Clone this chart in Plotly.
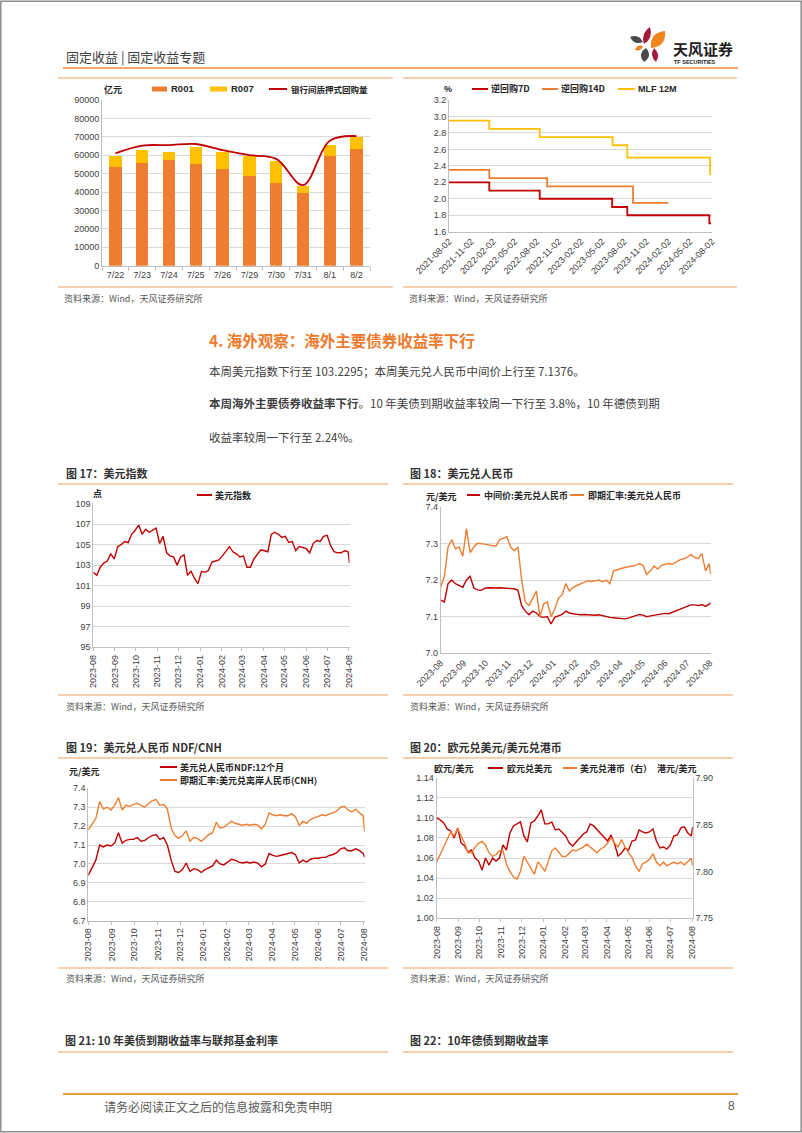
import plotly.graph_objects as go

W, H = 802, 1133


def X(p):
    return p / W


def Y(p):
    return 1 - p / H


FONT_CJK = "Noto Sans CJK SC"
FONT_LAT = "Liberation Sans, Arial, Noto Sans CJK SC"
RED = "#C00000"
ORANGE = "#ED7D31"
YELLOW = "#FFC000"
LINE_OR = "#F0A060"
GRID = "#D9D9D9"
AXIS = "#BFBFBF"
TXT = "#404040"

# ---------------- data: chart 1 (repo volume) ----------------
repo_days = ["7/22", "7/23", "7/24", "7/25", "7/26", "7/29", "7/30", "7/31", "8/1", "8/2"]
r001 = [53400, 55600, 57400, 55000, 52700, 48900, 45100, 39700, 59400, 63600]
r007 = [6200, 7200, 4500, 9300, 9200, 10700, 11600, 3600, 6100, 6300]
repo_volume = [61000, 65200, 65500, 66100, 62800, 60100, 58000, 43800, 67900, 70400]

# ---------------- data: chart 2 (policy rates, step) ----------------
rr7_dates = ["2021-08-02", "2022-01-17", "2022-08-15", "2023-06-13", "2023-08-15", "2024-07-22", "2024-07-29"]
rr7_vals = [2.20, 2.10, 2.00, 1.90, 1.80, 1.70, 1.70]
rr14_dates = ["2021-08-02", "2022-01-17", "2022-09-15", "2023-09-08", "2024-02-02"]
rr14_vals = [2.35, 2.25, 2.15, 1.95, 1.95]
mlf_dates = ["2021-08-02", "2022-01-17", "2022-08-15", "2023-06-15", "2023-08-15", "2024-07-25", "2024-07-29"]
mlf_vals = [2.95, 2.85, 2.75, 2.65, 2.50, 2.30, 2.30]
policy_ticks = ["2021-08-02", "2021-11-02", "2022-02-02", "2022-05-02", "2022-08-02", "2022-11-02",
                "2023-02-02", "2023-05-02", "2023-08-02", "2023-11-02", "2024-02-02", "2024-05-02",
                "2024-08-02"]

# ---------------- data: daily series sampled (2023-08 .. 2024-08) ----------------
dates = [
    "2023-08-01", "2023-08-06", "2023-08-11", "2023-08-16", "2023-08-21", "2023-08-26", "2023-08-31",
    "2023-09-05", "2023-09-10", "2023-09-15", "2023-09-20", "2023-09-25", "2023-09-30",
    "2023-10-05", "2023-10-10", "2023-10-15", "2023-10-20", "2023-10-25", "2023-10-30",
    "2023-11-04", "2023-11-09", "2023-11-14", "2023-11-19", "2023-11-24", "2023-11-29",
    "2023-12-04", "2023-12-09", "2023-12-14", "2023-12-19", "2023-12-24", "2023-12-29",
    "2024-01-03", "2024-01-08", "2024-01-13", "2024-01-18", "2024-01-23", "2024-01-28",
    "2024-02-02", "2024-02-07", "2024-02-12", "2024-02-17", "2024-02-22", "2024-02-27",
    "2024-03-03", "2024-03-08", "2024-03-13", "2024-03-18", "2024-03-23", "2024-03-28",
    "2024-04-02", "2024-04-07", "2024-04-12", "2024-04-17", "2024-04-22", "2024-04-27",
    "2024-05-02", "2024-05-07", "2024-05-12", "2024-05-17", "2024-05-22", "2024-05-27",
    "2024-06-01", "2024-06-06", "2024-06-11", "2024-06-16", "2024-06-21", "2024-06-26",
    "2024-07-01", "2024-07-06", "2024-07-11", "2024-07-16", "2024-07-21", "2024-07-26", "2024-07-31",
    "2024-08-02",
]

dxy = [
    102.3, 102.0, 102.8, 103.2, 103.4, 104.1, 103.6,
    104.8, 105.0, 105.3, 105.2, 106.0, 106.4,
    106.9, 106.0, 106.5, 106.2, 106.4, 106.6,
    105.1, 105.8, 104.2, 103.9, 103.8, 103.0,
    103.8, 104.0, 102.0, 102.4, 101.7, 101.2,
    102.4, 102.3, 102.5, 103.3, 103.4, 103.5,
    103.9, 104.3, 104.8, 104.3, 104.1, 103.8,
    103.9, 102.8, 102.8, 103.6, 104.0, 104.5,
    104.4, 104.3, 106.0, 106.2, 106.0, 105.7,
    105.8, 105.2, 105.3, 104.4, 104.8, 104.7,
    104.6, 104.2, 105.1, 105.4, 105.3, 105.8,
    105.9, 104.9, 104.3, 104.2, 104.2, 104.4, 104.3,
    103.2,
]
dxy_ticks = [95, 97, 99, 101, 103, 105, 107, 109]

cny_mid = [
    7.145, 7.140, 7.190, 7.200, 7.190, 7.185, 7.180,
    7.200, 7.210, 7.178, 7.173, 7.172, 7.178,
    7.179, 7.178, 7.178, 7.179, 7.178, 7.178,
    7.177, 7.176, 7.172, 7.130, 7.115, 7.105,
    7.115, 7.110, 7.100, 7.098, 7.100, 7.080,
    7.098, 7.102, 7.106, 7.115, 7.110, 7.108,
    7.106, 7.105, 7.106, 7.105, 7.104, 7.104,
    7.105, 7.102, 7.100, 7.098, 7.097, 7.096,
    7.095, 7.094, 7.096, 7.100, 7.104, 7.106,
    7.104, 7.100, 7.102, 7.104, 7.106, 7.108,
    7.109, 7.108, 7.112, 7.115, 7.120, 7.125,
    7.128, 7.132, 7.132, 7.130, 7.133, 7.128, 7.134,
    7.138,
]

cny_spot = [
    7.180, 7.210, 7.290, 7.310, 7.285, 7.290, 7.265,
    7.340, 7.275, 7.290, 7.300, 7.300, 7.298,
    7.296, 7.293, 7.292, 7.310, 7.315, 7.318,
    7.290, 7.280, 7.290, 7.200, 7.140, 7.130,
    7.150, 7.170, 7.100, 7.135, 7.140, 7.100,
    7.120, 7.150, 7.160, 7.190, 7.170, 7.180,
    7.185, 7.190, 7.195, 7.198, 7.196, 7.197,
    7.200, 7.195, 7.200, 7.190, 7.225, 7.228,
    7.232, 7.234, 7.236, 7.238, 7.240, 7.245,
    7.240, 7.215, 7.225, 7.238, 7.230, 7.240,
    7.242, 7.245, 7.243, 7.250, 7.255, 7.258,
    7.262, 7.270, 7.262, 7.258, 7.272, 7.225, 7.245,
    7.215,
]

cnh = [
    7.180, 7.210, 7.240, 7.330, 7.290, 7.300, 7.285,
    7.310, 7.350, 7.285, 7.310, 7.305, 7.315,
    7.320, 7.310, 7.300, 7.320, 7.335, 7.340,
    7.310, 7.315, 7.290, 7.190, 7.150, 7.135,
    7.150, 7.175, 7.120, 7.140, 7.135, 7.120,
    7.140, 7.155, 7.165, 7.220, 7.190, 7.195,
    7.210, 7.225, 7.215, 7.210, 7.205, 7.210,
    7.205, 7.210, 7.205, 7.185, 7.210, 7.270,
    7.260, 7.255, 7.260, 7.255, 7.255, 7.265,
    7.250, 7.205, 7.225, 7.215, 7.235, 7.245,
    7.250, 7.260, 7.255, 7.265, 7.270, 7.280,
    7.300, 7.305, 7.285, 7.275, 7.290, 7.270, 7.255,
    7.170,
]

ndf_12m = [
    6.940, 6.980, 7.020, 7.100, 7.090, 7.100, 7.095,
    7.110, 7.165, 7.110, 7.125, 7.130, 7.130,
    7.140, 7.120, 7.125, 7.140, 7.150, 7.155,
    7.130, 7.140, 7.100, 7.020, 6.960, 6.955,
    6.970, 7.005, 6.960, 6.975, 6.970, 6.955,
    6.970, 6.980, 6.990, 7.020, 7.000, 6.995,
    7.010, 7.025, 7.020, 7.010, 7.005, 7.010,
    7.005, 7.010, 7.005, 6.985, 7.000, 7.055,
    7.045, 7.040, 7.045, 7.050, 7.055, 7.060,
    7.050, 7.005, 7.020, 7.010, 7.025, 7.030,
    7.030, 7.035, 7.035, 7.045, 7.050, 7.060,
    7.080, 7.085, 7.070, 7.070, 7.080, 7.070, 7.055,
    7.035,
]

eurusd = [
    1.100, 1.098, 1.095, 1.089, 1.087, 1.080, 1.090,
    1.075, 1.072, 1.066, 1.068, 1.060, 1.057,
    1.048, 1.060, 1.053, 1.060, 1.057, 1.060,
    1.073, 1.068, 1.085, 1.092, 1.094, 1.096,
    1.082, 1.076, 1.095, 1.097, 1.102, 1.108,
    1.094, 1.094, 1.096, 1.088, 1.089, 1.085,
    1.082, 1.075, 1.072, 1.076, 1.080, 1.084,
    1.086, 1.094, 1.092, 1.088, 1.084, 1.080,
    1.077, 1.083, 1.074, 1.062, 1.065, 1.070,
    1.068, 1.077, 1.078, 1.088, 1.086, 1.085,
    1.086, 1.089, 1.077, 1.070, 1.071, 1.069,
    1.073, 1.082, 1.083, 1.090, 1.091, 1.085, 1.082,
    1.091,
]

usdhkd = [
    7.810, 7.818, 7.826, 7.835, 7.842, 7.838, 7.846,
    7.838, 7.830, 7.820, 7.820, 7.826, 7.830,
    7.832, 7.828, 7.820, 7.816, 7.818, 7.822,
    7.822, 7.808, 7.800, 7.794, 7.792, 7.800,
    7.816, 7.810, 7.803, 7.797, 7.810, 7.806,
    7.800, 7.812, 7.822, 7.825, 7.820, 7.816,
    7.816, 7.820, 7.823, 7.822, 7.824, 7.826,
    7.829, 7.826, 7.822, 7.820, 7.824, 7.826,
    7.830, 7.836, 7.830, 7.826, 7.834, 7.826,
    7.820, 7.815, 7.806, 7.800, 7.808, 7.810,
    7.813, 7.819, 7.810, 7.806, 7.810, 7.806,
    7.808, 7.810, 7.808, 7.810, 7.807, 7.810, 7.814,
    7.806,
]

month_ticks = ["2023-08-01", "2023-09-01", "2023-10-01", "2023-11-01", "2023-12-01", "2024-01-01",
               "2024-02-01", "2024-03-01", "2024-04-01", "2024-05-01", "2024-06-01", "2024-07-01",
               "2024-08-01"]
month_labels = ["2023-08", "2023-09", "2023-10", "2023-11", "2023-12", "2024-01", "2024-02",
                "2024-03", "2024-04", "2024-05", "2024-06", "2024-07", "2024-08"]

# ---------------- figure ----------------
fig = go.Figure()

# chart 1
fig.add_trace(go.Bar(x=repo_days, y=r001, name="R001", marker=dict(color=ORANGE, line=dict(width=0)),
                     xaxis="x", yaxis="y", showlegend=False))
fig.add_trace(go.Bar(x=repo_days, y=r007, name="R007", marker=dict(color=YELLOW, line=dict(width=0)),
                     xaxis="x", yaxis="y", showlegend=False))
fig.add_trace(go.Scatter(x=repo_days, y=repo_volume, mode="lines", name="银行间质押式回购量",
                         line=dict(color=RED, width=1.8, shape="spline", smoothing=1.0),
                         xaxis="x", yaxis="y", showlegend=False))

# chart 2
for d, v, c in [(rr7_dates, rr7_vals, RED), (rr14_dates, rr14_vals, ORANGE), (mlf_dates, mlf_vals, YELLOW)]:
    fig.add_trace(go.Scatter(x=d, y=v, mode="lines", line=dict(color=c, width=1.8, shape="hv"),
                             xaxis="x2", yaxis="y2", showlegend=False))

# chart 17
fig.add_trace(go.Scatter(x=dates, y=dxy, mode="lines", line=dict(color=RED, width=1.4),
                         xaxis="x3", yaxis="y3", showlegend=False))
# chart 18
fig.add_trace(go.Scatter(x=dates, y=cny_mid, mode="lines", line=dict(color=RED, width=1.4),
                         xaxis="x4", yaxis="y4", showlegend=False))
fig.add_trace(go.Scatter(x=dates, y=cny_spot, mode="lines", line=dict(color=ORANGE, width=1.4),
                         xaxis="x4", yaxis="y4", showlegend=False))
# chart 19
fig.add_trace(go.Scatter(x=dates, y=ndf_12m, mode="lines", line=dict(color=RED, width=1.4),
                         xaxis="x5", yaxis="y5", showlegend=False))
fig.add_trace(go.Scatter(x=dates, y=cnh, mode="lines", line=dict(color=ORANGE, width=1.4),
                         xaxis="x5", yaxis="y5", showlegend=False))
# chart 20
fig.add_trace(go.Scatter(x=dates, y=eurusd, mode="lines", line=dict(color=RED, width=1.4),
                         xaxis="x6", yaxis="y6", showlegend=False))
fig.add_trace(go.Scatter(x=dates, y=usdhkd, mode="lines", line=dict(color=ORANGE, width=1.4),
                         xaxis="x6", yaxis="y7", showlegend=False))

tickfont = dict(family=FONT_LAT, size=9, color=TXT)


def xax(dom, anchor, **kw):
    d = dict(domain=[X(dom[0]), X(dom[1])], anchor=anchor, showline=True, linecolor=AXIS, linewidth=1,
             showgrid=False, zeroline=False, tickfont=tickfont, ticks="outside", ticklen=3, tickcolor=AXIS,
             automargin=False)
    d.update(kw)
    return d


def yax(dom, anchor, **kw):
    d = dict(domain=[Y(dom[1]), Y(dom[0])], anchor=anchor, showline=True, linecolor=AXIS, linewidth=1,
             showgrid=True, gridcolor=GRID, gridwidth=1, zeroline=False, tickfont=tickfont, ticks="",
             automargin=False, ticklabeloverflow="allow")
    d.update(kw)
    return d


date_range = ["2023-08-01", "2024-08-02"]

layout = dict(
    template="none",
    width=W, height=H, autosize=False,
    margin=dict(l=0, r=0, t=0, b=0, pad=0, autoexpand=False),
    paper_bgcolor="white", plot_bgcolor="white",
    showlegend=False,
    barmode="stack", bargap=0.54,
    xaxis=xax((102, 370), "y", type="category", tickson="boundaries", ticklen=4, tickangle=0),
    yaxis=yax((100, 265.7), "x", range=[0, 90000], dtick=10000, tickformat="d"),
    xaxis2=xax((449, 712), "y2", type="date", range=["2021-08-02", "2024-08-02"], tickvals=policy_ticks,
               ticktext=policy_ticks, tickangle=-45, ticks=""),
    yaxis2=yax((100, 231.7), "x2", range=[1.6, 3.2], dtick=0.2, tickformat=".1f"),
    xaxis3=xax((93.3, 349.5), "y3", type="date", range=date_range, tickvals=month_ticks,
               ticktext=month_labels, tickangle=-90),
    yaxis3=yax((503.3, 647.3), "x3", range=[95, 109.02], tickvals=dxy_ticks,
               ticktext=[str(v) for v in dxy_ticks], tickmode="array"),
    xaxis4=xax((440.7, 710.7), "y4", type="date", range=date_range, tickvals=month_ticks,
               ticktext=month_labels, tickangle=-45, ticks=""),
    yaxis4=yax((506.7, 653.3), "x4", range=[7.0, 7.4], dtick=0.1, tickformat=".1f"),
    xaxis5=xax((88.3, 364.7), "y5", type="date", range=date_range, tickvals=month_ticks,
               ticktext=month_labels, tickangle=-90),
    yaxis5=yax((788.3, 920.7), "x5", range=[6.7, 7.4], dtick=0.1, tickformat=".1f"),
    xaxis6=xax((436.7, 692.7), "y6", type="date", range=date_range, tickvals=month_ticks,
               ticktext=month_labels, tickangle=-90),
    yaxis6=yax((777.7, 918.3), "x6", range=[1.00, 1.14], dtick=0.02, tickformat=".2f"),
    yaxis7=dict(overlaying="y6", side="right", anchor="x6", range=[7.75, 7.90], dtick=0.05,
                tickformat=".2f", showgrid=False, zeroline=False, showline=True, linecolor=AXIS,
                linewidth=1, tickfont=tickfont, ticks="", automargin=False),
)

shapes = []
annotations = []


def hline(x0, x1, y, color=LINE_OR, width=1.2):
    shapes.append(dict(type="line", xref="paper", yref="paper", x0=X(x0), x1=X(x1), y0=Y(y), y1=Y(y),
                       line=dict(color=color, width=width)))


def key_line(x0, x1, y, color, width=2):
    hline(x0, x1, y, color, width)


def key_rect(x0, x1, y0, y1, color):
    shapes.append(dict(type="rect", xref="paper", yref="paper", x0=X(x0), x1=X(x1), y0=Y(y1), y1=Y(y0),
                       fillcolor=color, line=dict(width=0)))


def text(x, y, s, size=9, color="#262626", anchor="left", family=FONT_CJK, bold=False):
    if bold:
        s = "<b>" + s + "</b>"
    annotations.append(dict(x=X(x), y=Y(y), xref="paper", yref="paper", text=s, showarrow=False,
                            xanchor=anchor, yanchor="middle", font=dict(family=family, size=size, color=color),
                            borderpad=0))


def leaf(p1, p2, half, color):
    (x1, y1), (x2, y2) = p1, p2
    dx, dy = x2 - x1, y2 - y1
    L = (dx * dx + dy * dy) ** 0.5
    nx, ny = -dy / L, dx / L
    mx, my = (x1 + x2) / 2, (y1 + y2) / 2
    c1 = (mx + nx * half * 2, my + ny * half * 2)
    c2 = (mx - nx * half * 2, my - ny * half * 2)
    path = "M {},{} Q {},{} {},{} Q {},{} {},{} Z".format(
        X(x1), Y(y1), X(c1[0]), Y(c1[1]), X(x2), Y(y2), X(c2[0]), Y(c2[1]), X(x1), Y(y1))
    shapes.append(dict(type="path", xref="paper", yref="paper", path=path, fillcolor=color,
                       line=dict(width=0)))


# page border
shapes.append(dict(type="rect", xref="paper", yref="paper", x0=0.001, x1=0.999, y0=0.001, y1=0.999,
                   line=dict(color="#8C8C8C", width=1.5), fillcolor="rgba(0,0,0,0)"))

# header
text(65, 57, "固定收益 | 固定收益专题", size=13, color="#404040")
hline(63, 738, 68, "#EE8A3C", 1.6)
# logo
leaf((650, 27), (644, 44), 3.5, "#A6193C")
leaf((665, 31), (651, 48), 5.5, "#F0841E")
leaf((630, 37), (643, 42), 3.2, "#4B4B4D")
leaf((635, 50), (643, 46), 2.2, "#F0841E")
leaf((646, 48), (644, 62), 4.0, "#4B4B4D")
leaf((654, 48), (656, 62), 3.0, "#A6193C")
text(672, 48, "天风证券", size=15, color="#222222", bold=True)
text(673, 62.5, "TF SECURITIES", size=5.5, color="#222222", family=FONT_LAT, bold=True)

# chart frames
for (a, b) in [(58, 393), (403, 737)]:
    hline(a, b, 78)
    hline(a, b, 287)
for y in (484, 695, 758, 968, 1052):
    hline(58, 388, y)
    hline(403, 733, y)

# chart 1 texts/legend
text(103, 90, "亿元", size=9, color="#262626", bold=True)
key_rect(152, 167, 86.5, 91.5, ORANGE)
text(169.5, 89, "R001", size=9.5, family=FONT_LAT, bold=True)
key_rect(210, 227, 86.5, 91.5, YELLOW)
text(229.5, 89, "R007", size=9.5, family=FONT_LAT, bold=True)
key_line(269, 287, 89, RED, 2)
text(290, 89, "银行间质押式回购量", size=8.5, bold=True)
text(63, 298, "资料来源：Wind，天风证券研究所", size=9, color="#595959")

# chart 2 texts/legend
text(443, 89, "%", size=9, family=FONT_LAT, bold=True)
key_line(472, 488, 89, RED, 2)
text(490, 89, "逆回购7D", size=9, bold=True)
key_line(542, 558, 89, ORANGE, 2)
text(560, 89, "逆回购14D", size=9, bold=True)
key_line(618, 635, 89, YELLOW, 2)
text(637, 89, "MLF 12M", size=9, family=FONT_LAT, bold=True)
text(408, 298, "资料来源：Wind，天风证券研究所", size=9, color="#595959")

# section text
text(208, 340, "4. 海外观察：海外主要债券收益率下行", size=15.5, color="#EE7A2C", bold=True)
text(208, 371, "本周美元指数下行至 103.2295；本周美元兑人民币中间价上行至 7.1376。", size=11.5, color=TXT)
text(208, 403, "<b>本周海外主要债券收益率下行</b>。10 年美债到期收益率较周一下行至 3.8%，10 年德债到期",
     size=11.5, color=TXT)
text(208, 437, "收益率较周一下行至 2.24%。", size=11.5, color=TXT)

# chart 17
text(65, 473, "图 17：美元指数", size=11, color="#333333", bold=True)
text(92, 494, "点", size=9, bold=True)
key_line(197, 212, 495, RED, 2)
text(214, 495, "美元指数", size=9, bold=True)
text(65, 706, "资料来源：Wind，天风证券研究所", size=9, color="#595959")

# chart 18
text(409, 473, "图 18：美元兑人民币", size=11, color="#333333", bold=True)
text(425, 496, "元/美元", size=9, bold=True)
key_line(467, 480, 495, RED, 2)
text(483, 495, "中间价:美元兑人民币", size=9, bold=True)
key_line(570, 584, 495, ORANGE, 2)
text(587, 495, "即期汇率:美元兑人民币", size=9, bold=True)
text(409, 706, "资料来源：Wind，天风证券研究所", size=9, color="#595959")

# chart 19
text(65, 747, "图 19：美元兑人民币 NDF/CNH", size=11, color="#333333", bold=True)
text(68, 771, "元/美元", size=9, bold=True)
key_line(160, 177, 767, RED, 2)
text(179, 767, "美元兑人民币NDF:12个月", size=9, bold=True)
key_line(160, 177, 780, ORANGE, 2)
text(179, 780, "即期汇率:美元兑离岸人民币(CNH)", size=9, bold=True)
text(65, 978, "资料来源：Wind，天风证券研究所", size=9, color="#595959")

# chart 20
text(409, 747, "图 20：欧元兑美元/美元兑港币", size=11, color="#333333", bold=True)
text(433, 768, "欧元/美元", size=9, bold=True)
key_line(488, 503, 768, RED, 2)
text(506, 768, "欧元兑美元", size=9, bold=True)
key_line(563, 577, 768, ORANGE, 2)
text(579, 768, "美元兑港币（右）", size=9, bold=True)
text(697, 768, "港元/美元", size=9, anchor="right", bold=True)
text(409, 978, "资料来源：Wind，天风证券研究所", size=9, color="#595959")

# bottom titles
text(64, 1040, "图 21: 10 年美债到期收益率与联邦基金利率", size=11, color="#333333", bold=True)
text(409, 1040, "图 22：10年德债到期收益率", size=11, color="#333333", bold=True)

# footer
hline(63, 738, 1094, "#E8A02E", 2)
text(103, 1106, "请务必阅读正文之后的信息披露和免责申明", size=12, color="#595959")
text(736, 1106, "8", size=12, color="#595959", anchor="right", family=FONT_LAT)

layout["shapes"] = shapes
layout["annotations"] = annotations
fig.update_layout(**layout)

fig.write_html("out.html")
